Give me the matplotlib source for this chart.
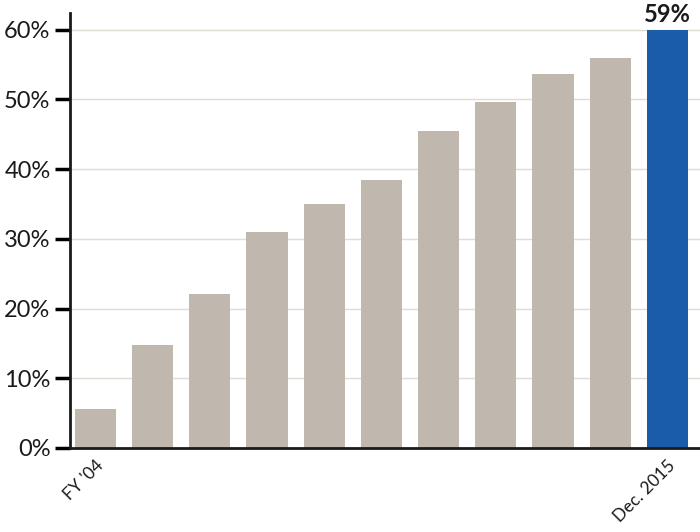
import numpy as np
import matplotlib.pyplot as plt

values = [5.6, 14.8, 22.1, 31.0, 35.0, 38.4, 45.4, 49.7, 53.7, 55.9, 60.0]
tick_labels = ["FY '04", "", "", "", "", "", "", "", "", "", "Dec. 2015"]
last_label = "59%"
yticks = [0, 10, 20, 30, 40, 50, 60]

plt.rcParams['font.family'] = ['Lato', 'DejaVu Sans']

fig = plt.figure(figsize=(7, 5.32), dpi=100)
ax = fig.add_axes([0.1, 0.158, 0.9, 0.8176])

x = np.arange(len(values))
colors = ['#c0b8ae'] * (len(values) - 1) + ['#1a5ca9']
ax.bar(x, values, width=0.72, color=colors, zorder=2)

ax.text(x[-1], values[-1] + 0.6, last_label, ha='center', va='bottom',
        fontsize=17, fontweight='bold', color='#1a1a1a')

ax.set_ylim(0, 62.4)
ax.set_xlim(-0.446, 10.57)
ax.set_yticks(yticks)
ax.set_yticklabels([f'{v}%' for v in yticks], fontsize=17, fontweight='normal')
ax.yaxis.grid(True, color='#e0dbd3', linewidth=1, zorder=0)
ax.set_axisbelow(True)

ax.set_xticks(x)
ax.set_xticklabels(tick_labels, rotation=45, ha='right', va='top',
                   rotation_mode='anchor', fontsize=12.5)
ax.tick_params(axis='x', length=0, pad=7, labelcolor='#1a1a1a')
ax.tick_params(axis='y', which='major', left=True, length=11, width=2.5,
               direction='out', pad=3, color='black', labelcolor='#1a1a1a')

for s in ['top', 'right']:
    ax.spines[s].set_visible(False)
for s in ['left', 'bottom']:
    ax.spines[s].set_linewidth(2)
    ax.spines[s].set_color('#1a1a1a')

fig.savefig('out.png', dpi=100)
